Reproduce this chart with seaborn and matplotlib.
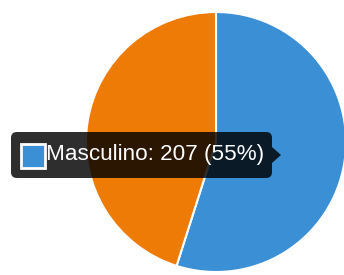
import matplotlib
matplotlib.use("Agg")
import matplotlib.pyplot as plt
from matplotlib.patches import FancyBboxPatch, Polygon, Rectangle
import seaborn as sns

# data
labels = ["Masculino", "Femenino"]
counts = [207, 170]
colours = ["#3a8fd5", "#ef7b07"]

sns.set_style("white")
plt.rcParams["font.family"] = ["Liberation Sans", "DejaVu Sans"]

W, H = 344, 275
cx, cy, R = 216, 142, 130


def px(x, y):
    # pixel (from top-left) -> data units, 1 unit = R pixels
    return (x - cx) / R, (cy - y) / R


fig = plt.figure(figsize=(W / 100, H / 100), dpi=100)
ax = fig.add_axes([0, 0, 1, 1])
ax.pie(counts, colors=colours, startangle=90, counterclock=False,
       wedgeprops=dict(edgecolor="white", linewidth=1.5))
ax.set_xlim(-cx / R, (W - cx) / R)
ax.set_ylim(-(H - cy) / R, cy / R)
ax.set_aspect("equal")
ax.axis("off")

# tooltip
x0, y0 = px(11, 178)
x1, y1 = px(272, 132)
box = FancyBboxPatch((x0, y0), x1 - x0, y1 - y0,
                     boxstyle="round,pad=0,rounding_size=0.045",
                     facecolor=(0, 0, 0, 0.82), edgecolor="none", zorder=5)
ax.add_patch(box)
arrow = Polygon([px(272, 147), px(281, 155), px(272, 163)],
                closed=True, facecolor=(0, 0, 0, 0.82), edgecolor="none", zorder=5)
ax.add_patch(arrow)

sx, sy = px(21, 168)
ax.add_patch(Rectangle((sx, sy), 24 / R, 24 / R, facecolor=colours[0],
                       edgecolor="white", linewidth=2, zorder=6))

total = sum(counts)
tx, ty = px(46, 155)
ax.text(tx, ty, f"{labels[0]}: {counts[0]} ({round(counts[0] / total * 100)}%)",
        color="white", fontsize=16.2, va="center", ha="left", zorder=7)

fig.savefig("out.png", dpi=100)
